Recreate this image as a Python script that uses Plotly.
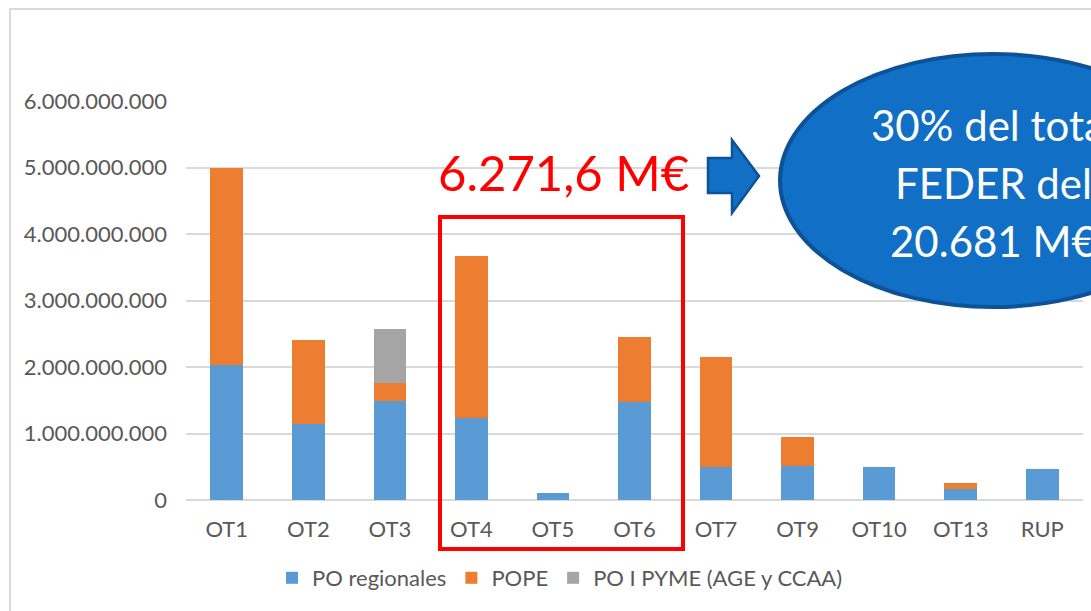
import plotly.graph_objects as go

# Datos FEDER por objetivo tematico (euros)
categorias = ["OT1", "OT2", "OT3", "OT4", "OT5", "OT6", "OT7", "OT9", "OT10", "OT13", "RUP"]
po_regionales = [2.03e9, 1.15e9, 1.49e9, 1.23e9, 0.11e9, 1.48e9, 0.49e9, 0.51e9, 0.49e9, 0.16e9, 0.47e9]
pope = [2.97e9, 1.25e9, 0.27e9, 2.44e9, 0, 0.97e9, 1.66e9, 0.44e9, 0, 0.095e9, 0]
po_pyme = [0, 0, 0.81e9, 0, 0, 0, 0, 0, 0, 0, 0]
y_ticks = [0, 1e9, 2e9, 3e9, 4e9, 5e9, 6e9]

W, H = 1091, 611
L, R, T, B = 186, 8, 101, 111
FONT = "Lato"
GRIS = "#595959"


def px(x):
    # pixel -> paper (x)
    return (x - L) / (W - L - R)


def py(y):
    # pixel -> paper (y)
    return (H - B - y) / (H - T - B)


fig = go.Figure()
series = [("PO regionales", po_regionales, "#5B9BD5"),
          ("POPE", pope, "#ED7D31"),
          ("PO I PYME (AGE y CCAA)", po_pyme, "#A5A5A5")]
for nombre, valores, color in series:
    fig.add_trace(go.Bar(x=categorias, y=valores, name=nombre,
                         marker=dict(color=color, line=dict(width=0))))

shapes = [
    # marco del grafico
    dict(type="rect", xref="paper", yref="paper", x0=px(10), y0=py(640), x1=px(1120), y1=py(9),
         line=dict(color="#D9D9D9", width=2), layer="below"),
    # recuadro rojo OT4-OT6
    dict(type="rect", xref="paper", yref="paper", x0=px(440), y0=py(549), x1=px(683), y1=py(217),
         line=dict(color="#FF0000", width=4)),
    # flecha
    dict(type="path", xref="paper", yref="paper",
         path="M{},{} L{},{} L{},{} L{},{} L{},{} L{},{} L{},{} Z".format(
             px(708), py(158), px(732), py(158), px(732), py(140), px(759), py(176),
             px(732), py(213), px(732), py(193), px(708), py(193)),
         fillcolor="#1170C5", line=dict(color="#0D5296", width=2.5)),
    # elipse
    dict(type="circle", xref="paper", yref="paper", x0=px(780), y0=py(307), x1=px(1206), y1=py(54),
         fillcolor="#1170C5", line=dict(color="#0D5296", width=4)),
]

annotations = [
    dict(text="6.271,6 M€", xref="paper", yref="paper", x=px(563), y=py(172), showarrow=False,
         font=dict(family=FONT, size=49, color="#FF0000"), xanchor="center", yanchor="middle"),
]
for texto, yc in [("30% del total", 125), ("FEDER del", 183), ("20.681 M€", 241)]:
    annotations.append(dict(text=texto, xref="paper", yref="paper", x=px(993), y=py(yc),
                            showarrow=False, font=dict(family=FONT, size=42, color="white"),
                            xanchor="center", yanchor="middle"))

fig.update_layout(
    barmode="stack",
    bargap=0.6,
    width=W, height=H, autosize=False,
    margin=dict(l=L, r=R, t=T, b=B),
    plot_bgcolor="white", paper_bgcolor="white",
    separators=",.",
    font=dict(family=FONT, size=22, color=GRIS),
    showlegend=True,
    legend=dict(orientation="h", x=px(560), y=py(578), xanchor="center", yanchor="middle",
                font=dict(family=FONT, size=22, color=GRIS), traceorder="normal"),
    shapes=shapes,
    annotations=annotations,
)
fig.update_xaxes(showgrid=False, showline=False, ticks="", ticklabelstandoff=14,
                 tickfont=dict(family=FONT, size=22, color=GRIS))
fig.update_yaxes(range=[0, 6e9], tickvals=y_ticks, tickformat=",d", showgrid=True,
                 gridcolor="#D9D9D9", gridwidth=1.5, zeroline=True, zerolinecolor="#D9D9D9",
                 zerolinewidth=1.5, showline=False, ticks="", ticklabelstandoff=18,
                 tickfont=dict(family=FONT, size=22, color=GRIS))

fig.write_html("out.html", config={"displayModeBar": False},
               post_script="document.body.style.margin='0';")
